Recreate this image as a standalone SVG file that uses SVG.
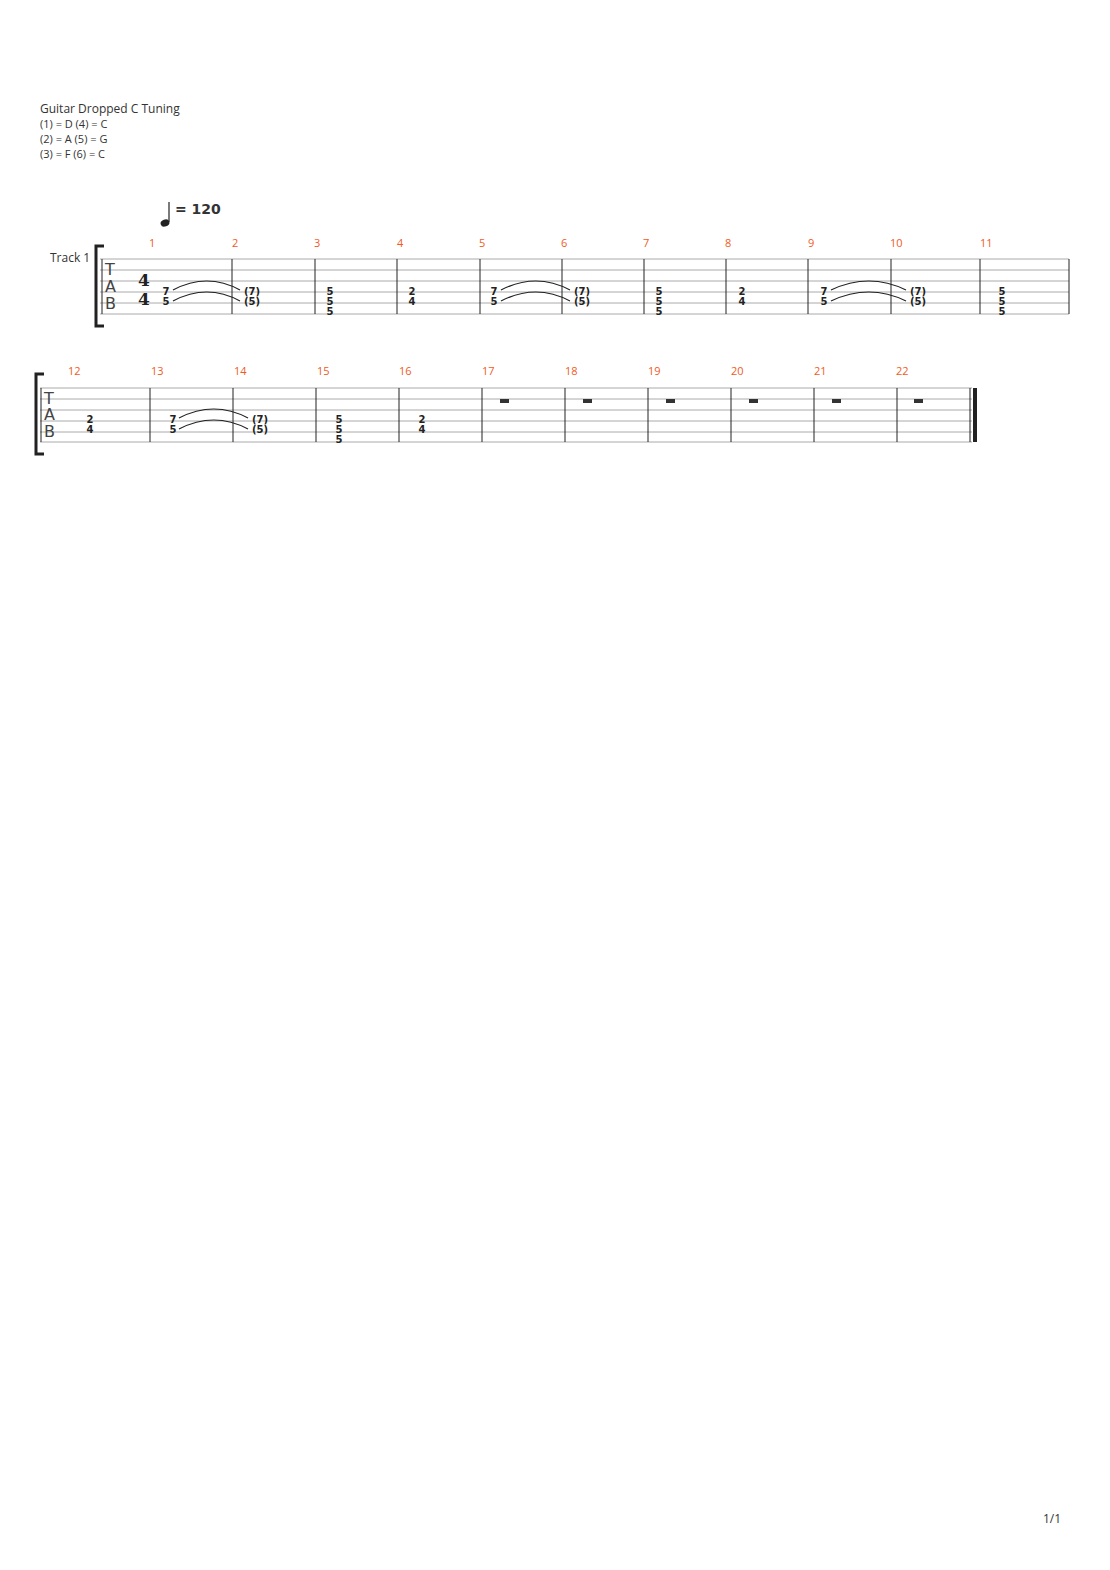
<svg xmlns="http://www.w3.org/2000/svg" width="1110" height="1570" viewBox="0 0 1110 1570">
<style>
.t{font-family:"Open Sans","DejaVu Sans",sans-serif;font-size:12px;fill:#333}
.n{font-family:"Open Sans","DejaVu Sans",sans-serif;font-size:11px;fill:#f15a24}
.f{font-family:"DejaVu Sans",sans-serif;font-size:10px;font-weight:bold;fill:#222;text-anchor:middle}
.s{stroke:#aaa;stroke-width:1}
.b{stroke:#222;stroke-width:1}
.tie{fill:none;stroke:#222;stroke-width:1.2}
.tab{font-family:"DejaVu Sans",sans-serif;font-size:16px;fill:#444}
.ts{font-family:"DejaVu Serif",serif;font-size:17px;font-weight:bold;fill:#222;text-anchor:middle}
</style>
<rect width="1110" height="1570" fill="#fff"/>
<g id="header" class="t">
<text x="40" y="113">Guitar Dropped C Tuning</text>
<text x="40" y="128" font-size="11">(1) = D (4) = C</text>
<text x="40" y="143" font-size="11">(2) = A (5) = G</text>
<text x="40" y="158" font-size="11">(3) = F  (6) = C</text>
<text x="50" y="262">Track 1</text>
<text x="1043" y="1523">1/1</text>
</g>
<g id="tempo">
<ellipse cx="165" cy="223" rx="4.5" ry="3.5" fill="#222" transform="rotate(-20 165 223)"/>
<line x1="169" y1="222" x2="169" y2="202" stroke="#222" stroke-width="1.2"/>
<text x="175" y="214" font-family="DejaVu Sans,sans-serif" font-size="14" font-weight="bold" fill="#333">= 120</text>
</g>
<g id="system1">
<path d="M104 246 L96 246 L96 326 L104 326" fill="none" stroke="#222" stroke-width="3"/>
<g class="s"><line x1="100" y1="259" x2="1069" y2="259"/><line x1="100" y1="270" x2="1069" y2="270"/><line x1="100" y1="281" x2="1069" y2="281"/><line x1="100" y1="292" x2="1069" y2="292"/><line x1="100" y1="303" x2="1069" y2="303"/><line x1="100" y1="314" x2="1069" y2="314"/></g>
<g class="b"><line x1="102" y1="259" x2="102" y2="314"/><line x1="232" y1="259" x2="232" y2="314"/><line x1="315" y1="259" x2="315" y2="314"/><line x1="397" y1="259" x2="397" y2="314"/><line x1="480" y1="259" x2="480" y2="314"/><line x1="562" y1="259" x2="562" y2="314"/><line x1="644" y1="259" x2="644" y2="314"/><line x1="726" y1="259" x2="726" y2="314"/><line x1="808" y1="259" x2="808" y2="314"/><line x1="891" y1="259" x2="891" y2="314"/><line x1="980" y1="259" x2="980" y2="314"/><line x1="1069" y1="259" x2="1069" y2="314"/></g>
<text class="tab" x="105" y="275">T</text><text class="tab" x="105" y="292">A</text><text class="tab" x="105" y="309">B</text>
<text x="144" y="286" class="ts">4</text><text x="144" y="305" class="ts">4</text>
<g class="n"><text x="149" y="247">1</text><text x="232" y="247">2</text><text x="314" y="247">3</text><text x="397" y="247">4</text><text x="479" y="247">5</text><text x="561" y="247">6</text><text x="643" y="247">7</text><text x="725" y="247">8</text><text x="808" y="247">9</text><text x="890" y="247">10</text><text x="980" y="247">11</text></g>
<g class="f">
<text x="166" y="295">7</text><text x="166" y="305">5</text><text x="252" y="295">(7)</text><text x="252" y="305">(5)</text>
<text x="330" y="295">5</text><text x="330" y="305">5</text><text x="330" y="315">5</text>
<text x="412" y="295">2</text><text x="412" y="305">4</text>
<text x="494" y="295">7</text><text x="494" y="305">5</text><text x="582" y="295">(7)</text><text x="582" y="305">(5)</text>
<text x="659" y="295">5</text><text x="659" y="305">5</text><text x="659" y="315">5</text>
<text x="742" y="295">2</text><text x="742" y="305">4</text>
<text x="824" y="295">7</text><text x="824" y="305">5</text><text x="918" y="295">(7)</text><text x="918" y="305">(5)</text>
<text x="1002" y="295">5</text><text x="1002" y="305">5</text><text x="1002" y="315">5</text>
</g>
</g>
<g id="system2">
<path d="M44 374 L36 374 L36 454 L44 454" fill="none" stroke="#222" stroke-width="3"/>
<g class="s"><line x1="40" y1="388" x2="972" y2="388"/><line x1="40" y1="399" x2="972" y2="399"/><line x1="40" y1="410" x2="972" y2="410"/><line x1="40" y1="421" x2="972" y2="421"/><line x1="40" y1="432" x2="972" y2="432"/><line x1="40" y1="442" x2="972" y2="442"/></g>
<g class="b"><line x1="41" y1="388" x2="41" y2="442"/><line x1="150" y1="388" x2="150" y2="442"/><line x1="233" y1="388" x2="233" y2="442"/><line x1="316" y1="388" x2="316" y2="442"/><line x1="399" y1="388" x2="399" y2="442"/><line x1="482" y1="388" x2="482" y2="442"/><line x1="565" y1="388" x2="565" y2="442"/><line x1="648" y1="388" x2="648" y2="442"/><line x1="731" y1="388" x2="731" y2="442"/><line x1="814" y1="388" x2="814" y2="442"/><line x1="897" y1="388" x2="897" y2="442"/><line x1="970" y1="388" x2="970" y2="442"/></g>
<rect x="973" y="388" width="4" height="54" fill="#222"/>
<text class="tab" x="44" y="404">T</text><text class="tab" x="44" y="420">A</text><text class="tab" x="44" y="437">B</text>
<g class="n"><text x="68" y="375">12</text><text x="151" y="375">13</text><text x="234" y="375">14</text><text x="317" y="375">15</text><text x="399" y="375">16</text><text x="482" y="375">17</text><text x="565" y="375">18</text><text x="648" y="375">19</text><text x="731" y="375">20</text><text x="814" y="375">21</text><text x="896" y="375">22</text></g>
<g class="f">
<text x="90" y="423">2</text><text x="90" y="433">4</text>
<text x="173" y="423">7</text><text x="173" y="433">5</text><text x="260" y="423">(7)</text><text x="260" y="433">(5)</text>
<text x="339" y="423">5</text><text x="339" y="433">5</text><text x="339" y="443">5</text>
<text x="422" y="423">2</text><text x="422" y="433">4</text>
</g>
<g fill="#333"><rect x="500" y="399" width="9" height="4"/><rect x="583" y="399" width="9" height="4"/><rect x="666" y="399" width="9" height="4"/><rect x="749" y="399" width="9" height="4"/><rect x="832" y="399" width="9" height="4"/><rect x="914" y="399" width="9" height="4"/></g>
</g>
<g id="connectors" class="tie">
<path d="M173 290 Q207 272 240 290"/><path d="M173 301 Q207 283 240 301"/>
<path d="M501 290 Q536 272 570 290"/><path d="M501 301 Q536 283 570 301"/>
<path d="M831 290 Q869 272 906 290"/><path d="M831 301 Q869 283 906 301"/>
<path d="M179 418 Q214 400 248 418"/><path d="M179 429 Q214 411 248 429"/>
</g>
</svg>
